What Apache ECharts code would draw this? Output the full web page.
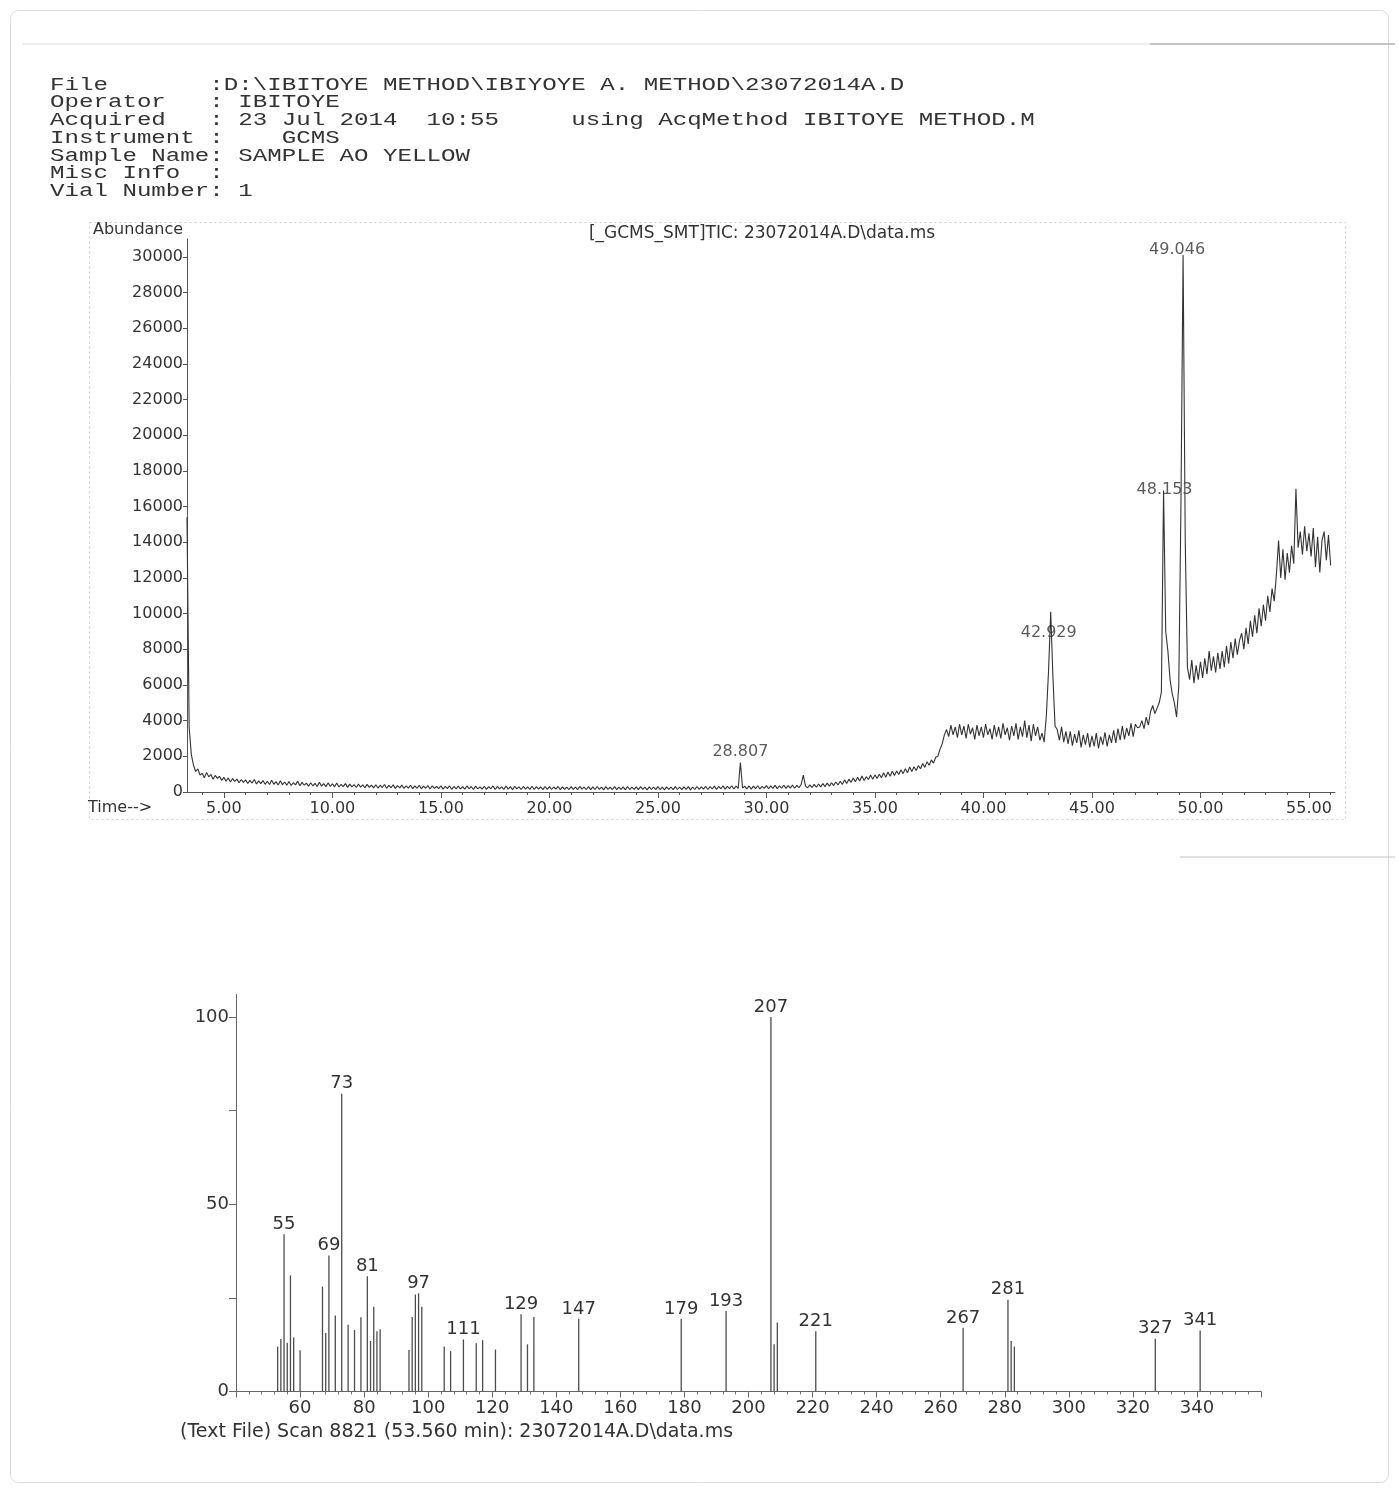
<!DOCTYPE html>
<html><head><meta charset="utf-8">
<script src="https://cdn.jsdelivr.net/npm/echarts@6/dist/echarts.min.js"></script>
<style>html,body{margin:0;padding:0;background:#fff}#c{width:1398px;height:1492px}</style>
</head><body><div id="c"></div>
<script>
// ---------- TIC chromatogram (abundance, one value per 0.1 min from 3.3 min) ----------
const TIC_T0 = 3.3, TIC_DT = 0.1;
const ticValues = [
  15400, 3600, 2100, 1500, 1150, 1300, 950,
  1050, 800, 1100, 850, 980, 720, 930, 760, 880, 650,
  820, 600, 790, 560, 760, 590, 720, 520, 700, 540,
  680, 480, 650, 500, 700, 450, 620, 470, 640, 430,
  600, 420, 660, 430, 580, 390, 630, 410, 560, 380,
  590, 370, 520, 400, 610, 350, 540, 380, 500, 330,
  520, 340, 480, 310, 550, 330, 470, 300, 510, 320,
  460, 290, 500, 280, 430, 300, 470, 260, 440, 290,
  420, 250, 450, 270, 400, 240, 430, 260, 390, 230,
  410, 220, 380, 250, 420, 210, 370, 240, 400, 200,
  360, 230, 390, 200, 350, 220, 380, 190, 340, 210,
  370, 180, 330, 210, 360, 170, 340, 200, 310, 190,
  350, 160, 320, 190, 340, 150, 310, 180, 330, 170,
  300, 160, 340, 180, 310, 140, 330, 170, 290, 160,
  320, 150, 300, 180, 340, 140, 310, 170, 290, 150,
  330, 160, 300, 130, 320, 170, 290, 140, 310, 160,
  290, 150, 320, 140, 300, 160, 280, 130, 310, 150,
  300, 140, 280, 160, 310, 130, 290, 150, 270, 140,
  300, 150, 280, 130, 310, 160, 270, 140, 300, 130,
  290, 140, 310, 150, 280, 120, 300, 150, 270, 140,
  300, 130, 280, 150, 290, 120, 310, 140, 270, 150,
  290, 130, 300, 150, 270, 120, 290, 140, 280, 130,
  300, 140, 270, 120, 290, 150, 280, 130, 300, 140,
  280, 130, 290, 150, 300, 120, 280, 140, 310, 150,
  290, 160, 320, 140, 300, 170, 330, 150, 310, 180,
  340, 160, 320, 190, 350, 170, 330, 200, 1650, 220,
  320, 170, 340, 160, 330, 190, 350, 170, 320, 200,
  360, 180, 340, 200, 370, 190, 350, 210, 380, 200,
  360, 220, 390, 210, 370, 240, 420, 950, 330, 240,
  400, 250, 430, 270, 450, 290, 470, 300, 500, 330,
  520, 360, 560, 390, 600, 430, 680, 480, 720, 540,
  780, 580, 820, 620, 900, 650, 860, 700, 950, 720,
  960, 760, 1000, 800, 1080, 830, 1120, 880, 1160, 920,
  1180, 980, 1250, 1030, 1300, 1080, 1400, 1150, 1420, 1200,
  1480, 1300, 1600, 1380, 1700, 1500, 1800, 1620, 1950, 2000,
  2400, 2700, 3200, 3500, 3100, 3750, 3200, 3650, 3050, 3800,
  3200, 3700, 3000, 3800, 3250, 3600, 2950, 3750, 3150, 3650,
  3050, 3800, 3200, 3550, 2950, 3750, 3100, 3650, 3000, 3850,
  3200, 3600, 2900, 3700, 3150, 3850, 2950, 3650, 3100, 4000,
  3050, 3750, 2850, 3800, 3150, 3650, 2900, 3300, 2800, 4300,
  6800, 10100, 6500, 3700, 3500, 2900, 3650, 2800, 3400, 2700,
  3400, 2600, 3250, 2750, 3450, 2500, 3200, 2650, 3300, 2500,
  3150, 2550, 3300, 2450, 3100, 2650, 3350, 2550, 3200, 2750,
  3450, 2750, 3550, 2900, 3700, 2950, 3600, 3150, 3850, 3100,
  3800, 3600, 3650, 4000, 3550, 4200, 3750, 4500, 4850, 4400,
  4700, 5000, 5600, 16900, 9000, 7900, 6300, 5500, 5000, 4200,
  5900, 16000, 30100, 14000, 7000, 6300, 7400, 6100, 7100, 6300,
  7300, 6400, 7500, 6600, 7900, 6800, 7600, 6700, 7800, 6900,
  7900, 7000, 8200, 7200, 8400, 7500, 8600, 7700, 8500, 8900,
  8000, 9200, 8300, 9600, 8700, 9900, 8900, 10300, 9300, 10500,
  9600, 11000, 10100, 11400, 10700, 12200, 14100, 12000, 13600, 11900,
  13400, 12300, 13800, 12800, 17000, 13700, 14600, 13300, 14900, 13500,
  14500, 13200, 14800, 12600, 14300, 12300, 14100, 14600, 13000, 14400,
  12700
];
const peakLabels = ['28.807', '42.929', '48.153', '49.046'];
const peakApexTimes = [28.8, 43.1, 48.3, 49.2];
const ticYTicks = [0, 2000, 4000, 6000, 8000, 10000, 12000, 14000, 16000, 18000, 20000, 22000, 24000, 26000, 28000, 30000];
const ticXTicks = [5, 10, 15, 20, 25, 30, 35, 40, 45, 50, 55];

// ---------- Mass spectrum (m/z, relative abundance) ----------
const msMz = [53, 54, 55, 56, 57, 58, 60, 67, 68, 69, 71, 73, 75, 77, 79, 81, 82, 83, 84, 85,
  94, 95, 96, 97, 98, 105, 107, 111, 115, 117, 121, 129, 131, 133, 147, 179, 193, 207, 208, 209,
  221, 267, 281, 282, 283, 327, 341];
const msAbund = [12, 14, 42, 13, 31, 14.4, 11, 28, 15.6, 36.3, 20.3, 79.5, 17.8, 16.4, 19.8, 30.8, 13.5, 22.6, 16.1, 16.6,
  11.1, 19.9, 25.9, 26.2, 22.6, 12, 10.8, 13.9, 12.9, 13.7, 11.2, 20.6, 12.6, 19.9, 19.4, 19.4, 21.5, 100, 12.6, 18.4,
  16.1, 17, 24.5, 13.5, 12, 14.1, 16.3];
const msLabeled = [55, 69, 73, 81, 97, 111, 129, 147, 179, 193, 207, 221, 267, 281, 327, 341];
const msYTicks = [0, 25, 50, 75, 100];
const msYLabels = [0, 50, 100];

// ---------- Header text ----------
const headerLines = [
  'File       :D:\\IBITOYE METHOD\\IBIYOYE A. METHOD\\23072014A.D',
  'Operator   : IBITOYE',
  'Acquired   : 23 Jul 2014  10:55     using AcqMethod IBITOYE METHOD.M',
  'Instrument :    GCMS',
  'Sample Name: SAMPLE AO YELLOW',
  'Misc Info  :',
  'Vial Number: 1'
];
const ticTitle = '[_GCMS_SMT]TIC: 23072014A.D\\data.ms';
const msCaption = '(Text File) Scan 8821 (53.560 min): 23072014A.D\\data.ms';

// ---------- build ----------
const ticData = ticValues.map((v, i) => [Math.round((TIC_T0 + i * TIC_DT) * 10) / 10, v]);
function ticAt(t) {
  let best = ticData[0];
  for (const p of ticData) if (Math.abs(p[0] - t) < Math.abs(best[0] - t)) best = p;
  return best[1];
}
const peakLabelOffsets = [[0, -11], [-2, 21], [1, -1], [-6, -5]];
const minorTop = [];
for (let m = 4; m <= 56; m++) minorTop.push(m);

const SANS = 'DejaVu Sans';
const INK = '#333';
const AXIS = '#555';

const headerGraphics = headerLines.map((txt, i) => ({
  type: 'text', x: 50, y: [85, 102, 120, 138, 156, 173, 191][i], scaleX: 1.27, silent: true,
  style: { text: txt, fontSize: 19, fontFamily: 'Liberation Mono', fill: INK, verticalAlign: 'middle', textVerticalAlign: 'middle' }
}));

const chart = echarts.init(document.getElementById('c'), null, { renderer: 'canvas' });
chart.setOption({
  animation: false,
  backgroundColor: '#fff',
  grid: [
    { left: 187, top: 239, width: 1148, height: 553, outerBoundsMode: 'none' },
    { left: 236, top: 994.5, width: 1025, height: 397, outerBoundsMode: 'none' }
  ],
  xAxis: [
    {
      type: 'value', gridIndex: 0, min: 3.3, max: 56.2, position: 'bottom',
      axisLine: { show: true, lineStyle: { color: AXIS, width: 1 } },
      axisTick: { show: true, customValues: ticXTicks, length: 6, lineStyle: { color: AXIS } },
      axisLabel: { customValues: ticXTicks, formatter: v => Number(v).toFixed(2), fontFamily: SANS, fontSize: 16, color: INK, margin: 9 },
      splitLine: { show: false }
    },
    {
      type: 'value', gridIndex: 0, min: 3.3, max: 56.2, position: 'bottom',
      axisLine: { show: false },
      axisTick: { show: true, customValues: minorTop, length: 3, lineStyle: { color: AXIS } },
      axisLabel: { show: false }, splitLine: { show: false }
    },
    {
      type: 'value', gridIndex: 1, min: 40, max: 360, interval: 20, position: 'bottom',
      axisLine: { show: true, lineStyle: { color: '#666', width: 1 } },
      axisTick: { show: true, length: 6, lineStyle: { color: '#666' } },
      minorTick: { show: true, splitNumber: 5, length: 3, lineStyle: { color: '#777' } },
      axisLabel: { showMinLabel: false, showMaxLabel: false, fontFamily: SANS, fontSize: 18, color: INK, margin: 8 },
      splitLine: { show: false }, minorSplitLine: { show: false }
    }
  ],
  yAxis: [
    {
      type: 'value', gridIndex: 0, min: 0, max: 31000,
      axisLine: { show: true, lineStyle: { color: AXIS, width: 1 } },
      axisTick: { show: true, customValues: ticYTicks, length: 4, lineStyle: { color: AXIS } },
      axisLabel: { customValues: ticYTicks, formatter: v => String(v), fontFamily: SANS, fontSize: 16, color: INK, margin: 4 },
      splitLine: { show: false }
    },
    {
      type: 'value', gridIndex: 1, min: 0, max: 106,
      axisLine: { show: true, lineStyle: { color: '#666', width: 1 } },
      axisTick: { show: true, customValues: msYTicks, length: 7, lineStyle: { color: '#666' } },
      axisLabel: { customValues: msYLabels, formatter: v => String(v), fontFamily: SANS, fontSize: 18, color: INK, margin: 7 },
      splitLine: { show: false }
    }
  ],
  series: [
    {
      type: 'line', xAxisIndex: 0, yAxisIndex: 0, data: ticData,
      showSymbol: false, symbol: 'none', silent: true,
      lineStyle: { color: '#333', width: 1.1 }
    },
    {
      type: 'scatter', xAxisIndex: 0, yAxisIndex: 0, silent: true,
      symbolSize: 1, itemStyle: { color: 'rgba(0,0,0,0)' },
      data: peakApexTimes.map((t, i) => ({ value: [t, ticAt(t)], label: { offset: peakLabelOffsets[i] } })),
      label: {
        show: true, position: 'inside', fontFamily: SANS, fontSize: 16, color: INK,
        formatter: p => peakLabels[p.dataIndex]
      }
    },
    {
      type: 'bar', xAxisIndex: 2, yAxisIndex: 1, silent: true, barWidth: 1.3,
      itemStyle: { color: '#4d4d4d' },
      data: msMz.map((m, i) => ({ value: [m, msAbund[i]], label: { show: msLabeled.includes(m) } })),
      label: { show: false, position: 'top', distance: 1, fontFamily: SANS, fontSize: 18, color: INK, formatter: p => p.value[0] }
    }
  ],
  graphic: [
    { type: 'rect', silent: true, shape: { x: 10.5, y: 10.5, width: 1378, height: 1472, r: 8 }, style: { fill: 'none', stroke: '#dcdcdc', lineWidth: 1 } },
    { type: 'line', silent: true, shape: { x1: 22, y1: 44, x2: 1395, y2: 44 }, style: { stroke: '#dddddd', lineWidth: 1 } },
    { type: 'line', silent: true, shape: { x1: 1150, y1: 44, x2: 1395, y2: 44 }, style: { stroke: '#9a9a9a', lineWidth: 1.2 } },
    { type: 'line', silent: true, shape: { x1: 1180, y1: 857, x2: 1395, y2: 857 }, style: { stroke: '#c4c4c4', lineWidth: 1 } },
    { type: 'rect', silent: true, shape: { x: 89.5, y: 222.5, width: 1256, height: 597 }, style: { fill: 'none', stroke: '#cfcfcf', lineWidth: 1, lineDash: [2, 3] } },
    ...headerGraphics,
    { type: 'text', x: 93, y: 230, silent: true, style: { text: 'Abundance', fontFamily: SANS, fontSize: 16, fill: INK, verticalAlign: 'middle', textVerticalAlign: 'middle' } },
    { type: 'text', x: 762, y: 234, silent: true, style: { text: ticTitle, fontFamily: SANS, fontSize: 17, fill: INK, align: 'center', textAlign: 'center', verticalAlign: 'middle', textVerticalAlign: 'middle' } },
    { type: 'text', x: 88, y: 808, silent: true, style: { text: 'Time-->', fontFamily: SANS, fontSize: 16, fill: INK, verticalAlign: 'middle', textVerticalAlign: 'middle' } },
    { type: 'text', x: 180, y: 1432, silent: true, style: { text: msCaption, fontFamily: SANS, fontSize: 19, fill: INK, verticalAlign: 'middle', textVerticalAlign: 'middle' } }
  ]
});
</script>
</body></html>
